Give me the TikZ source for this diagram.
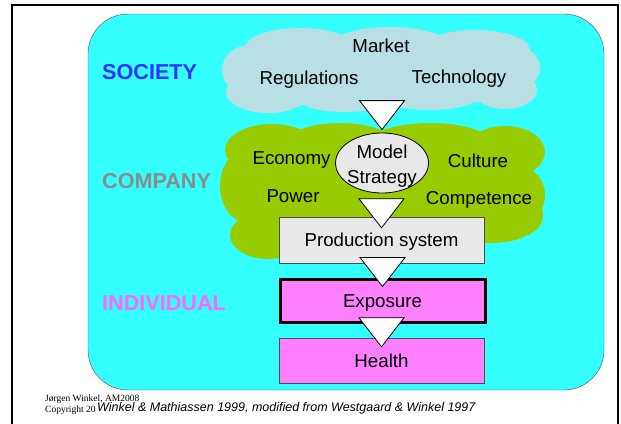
\documentclass[tikz,border=0pt]{standalone}
\usepackage{fontspec}
\setmainfont{Liberation Sans}
\newfontfamily\footserif{Liberation Serif}
\usetikzlibrary{positioning}
\usetikzlibrary{shapes.geometric}
\definecolor{bgcyan}{HTML}{33FFFF}
\definecolor{skyblue}{HTML}{B8DFE3}
\definecolor{leafgreen}{HTML}{99CC00}
\definecolor{boxgray}{HTML}{E8E8E8}
\definecolor{pinkbox}{HTML}{FF80FF}
\definecolor{socblue}{HTML}{3333FF}
\definecolor{compgray}{HTML}{8C8C8C}
\definecolor{indpink}{HTML}{FF66FF}
\newcommand\flowdown[1]{\draw[flowtri] (#1) -- ++(-22.5,-29) -- ++(45,0) -- cycle;}

\begin{document}
\begin{tikzpicture}[x=1pt,y=-1pt,
  word/.style={font=\fontsize{18.7}{25}\selectfont, inner sep=0pt, text height=13.4pt, text depth=0pt},
  layername/.style={font=\fontsize{21.6}{24}\selectfont\bfseries, anchor=west, inner sep=0pt},
  stepbox/.style={draw=black!70, fill=boxgray, minimum width=205pt, minimum height=46pt, inner sep=0pt, text height=13.4pt, text depth=0pt, font=\fontsize{18.7}{22}\selectfont},
  flowtri/.style={draw=black, fill=white, line width=0.8pt}]
\useasboundingbox (0,0) rectangle (621,423);
\clip (0,0) rectangle (621,423);
\draw[line width=2pt] (11.5,4.5) rectangle (618,440);
\draw[fill=bgcyan, draw=black!70, rounded corners=40pt] (88,14) rectangle (604,390);
% society cloud
\fill[skyblue] (245,45) rectangle (520,102);
\fill[skyblue] (300,48) ellipse [x radius=55pt, y radius=20pt];
\fill[skyblue] (390,46) ellipse [x radius=60pt, y radius=19pt];
\fill[skyblue] (475,50) ellipse [x radius=55pt, y radius=20pt];
\fill[skyblue] (250,70) ellipse [x radius=28pt, y radius=25pt];
\fill[skyblue] (515,68) ellipse [x radius=25pt, y radius=22pt];
\fill[skyblue] (268,92) ellipse [x radius=42pt, y radius=21pt];
\fill[skyblue] (345,96) ellipse [x radius=50pt, y radius=16pt];
\fill[skyblue] (430,95) ellipse [x radius=50pt, y radius=15pt];
\fill[skyblue] (505,90) ellipse [x radius=32pt, y radius=19pt];
% company cloud
\fill[leafgreen] (240,140) rectangle (530,235);
\fill[leafgreen] (272,150) ellipse [x radius=47pt, y radius=26pt];
\fill[leafgreen] (340,140) ellipse [x radius=50pt, y radius=17pt];
\fill[leafgreen] (430,142) ellipse [x radius=60pt, y radius=19pt];
\fill[leafgreen] (505,152) ellipse [x radius=40pt, y radius=26pt];
\fill[leafgreen] (246,186) ellipse [x radius=26pt, y radius=36pt];
\fill[leafgreen] (520,195) ellipse [x radius=25pt, y radius=28pt];
\fill[leafgreen] (268,235) ellipse [x radius=38pt, y radius=24pt];
\fill[leafgreen] (330,245) ellipse [x radius=50pt, y radius=17pt];
\fill[leafgreen] (490,225) ellipse [x radius=45pt, y radius=18pt];
\fill[leafgreen] (523,215) ellipse [x radius=20pt, y radius=20pt];
\node[layername, text=socblue] (society) at (102,72) {SOCIETY};
\node[layername, text=compgray] (company) at (102,181) {COMPANY};
\node[layername, text=indpink] (individual) at (102,303) {INDIVIDUAL};
\node[word] (market) at (381,46) {Market};
\node[word] (regulations) at (309,78) {Regulations};
\node[word] (technology) at (459,77) {Technology};
\node[word] (economy) at (291.5,158) {Economy};
\node[word] (culture) at (478,161) {Culture};
\node[word] (power) at (293,196) {Power};
\node[word] (competence) at (479,198) {Competence};
\node[draw=black, fill=boxgray, ellipse, minimum width=93pt, minimum height=60pt, line width=0.8pt] (model) at (382,163) {};
\node[font=\fontsize{18.7}{25}\selectfont, inner sep=0pt, align=center] (modeltext) at ([yshift=-3pt]model.center) {Model\\Strategy};
\node[stepbox] (prod) at (381.5,240) {Production system};
\node[stepbox, draw=black, fill=pinkbox, line width=3pt, minimum width=205pt, minimum height=43pt] (expo) at (382.5,300.5) {Exposure};
\node[stepbox, fill=pinkbox, minimum height=45pt] (health) at (381.5,360.5) {Health};
\flowdown{[yshift=3pt]model.north}
\flowdown{[yshift=-11pt]prod.north}
\flowdown{[yshift=-9pt]expo.north}
\flowdown{[yshift=-9pt]health.north}
\node[anchor=west, inner sep=0pt, font=\footserif\fontsize{9.5}{11}\selectfont] (author) at (45,399) {Jørgen Winkel, AM2008};
\node[anchor=west, inner sep=0pt, font=\footserif\fontsize{9.5}{11}\selectfont] (copyright) at (45,410) {Copyright 20};
\node[anchor=west, inner sep=0pt, font=\itshape\fontsize{12.5}{14}\selectfont] (source) at (97,408) {Winkel \& Mathiassen 1999, modified from Westgaard \& Winkel 1997};
\end{tikzpicture}
\end{document}
